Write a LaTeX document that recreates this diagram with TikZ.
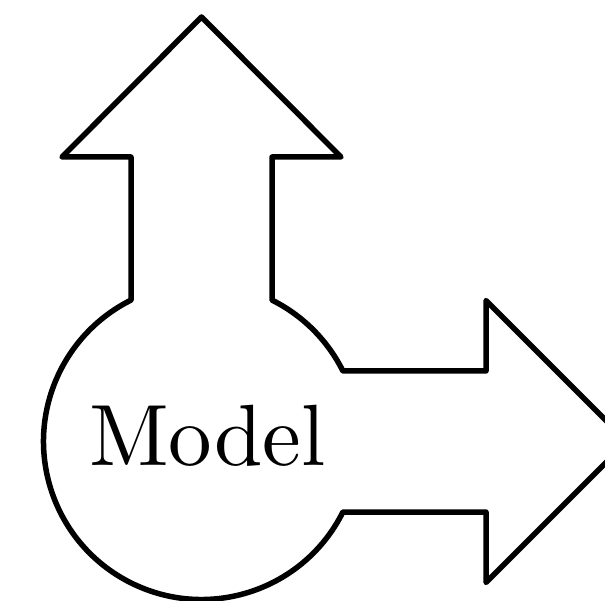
\documentclass[tikz,border=0pt]{standalone}
\font\modelfont=cmr10 at 87pt
\begin{document}
\begin{tikzpicture}[x=1pt,y=1pt,
  outline/.style={line width=5.5pt,line join=round,draw=black,fill=white}]
\useasboundingbox (0,0) rectangle (605,600);
\clip (0,0) rectangle (605,600);
\draw[outline] (131,299.9) -- (131,443) -- (62,443) -- (201.5,583) -- (341,443) -- (272,443) -- (272,299.9)
  arc[start angle=63.5,end angle=26.5,radius=158] -- (486,229) -- (486,299.5) -- (627,158.5)
  -- (486,17.5) -- (486,88) -- (342.9,88)
  arc[start angle=-26.5,end angle=-243.5,radius=158] -- cycle;
\node[anchor=base,inner sep=0pt,font=\modelfont] (model) at (207.5,134) {Model};
\end{tikzpicture}
\end{document}
